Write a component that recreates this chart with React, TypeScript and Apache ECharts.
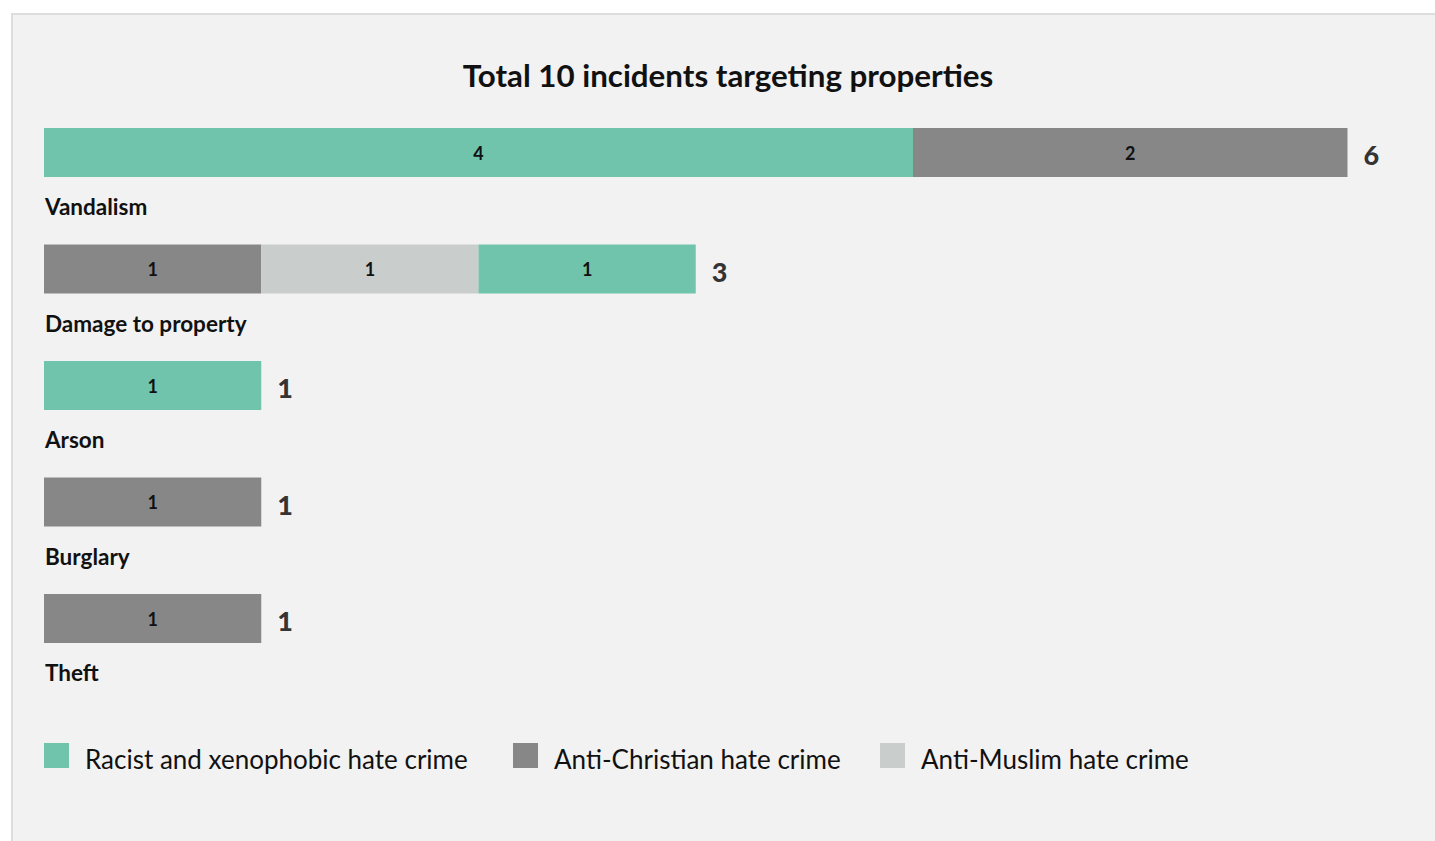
import React, { useEffect, useRef } from "react";
import * as echarts from "echarts";

const titleText = "Total 10 incidents targeting properties";
const categories = ["Vandalism", "Damage to property", "Arson", "Burglary", "Theft"];
const racistFirst = [4, 0, 1, 0, 0];
const antiChristian = [2, 1, 0, 1, 1];
const antiMuslim = [0, 1, 0, 0, 0];
const racistLast = [0, 1, 0, 0, 0];
const legendNames = [
  "Racist and xenophobic hate crime",
  "Anti-Christian hate crime",
  "Anti-Muslim hate crime",
];

const GREEN = "#6fc4ab";
const DARK = "#878787";
const LIGHT = "#c9cdcc";
const FONT = "Lato, 'Noto Sans', sans-serif";
const TXT = "#111111";

export default function App() {
  const ref = useRef<HTMLDivElement>(null);
  useEffect(() => {
    if (!ref.current) return;
    const chart = echarts.init(ref.current, undefined, { renderer: "svg" });
    const totals = categories.map(
      (_, i) => racistFirst[i] + antiChristian[i] + antiMuslim[i] + racistLast[i]
    );
    const barLabel = {
      show: true,
      position: "inside",
      color: TXT,
      fontFamily: FONT,
      fontWeight: "bold",
      fontSize: 18,
      formatter: (p: any) => (p.value ? String(p.value) : ""),
    };
    const mkBar = (name: string, data: number[], color: string) => ({
      type: "bar",
      name,
      stack: "total",
      data,
      barWidth: 49,
      itemStyle: { color },
      label: barLabel,
      emphasis: { disabled: true },
    });
    const legendPos = [31, 500, 867];
    const legendColors = [GREEN, DARK, LIGHT];
    chart.setOption({
      animation: false,
      backgroundColor: "#f2f2f2",
      title: {
        text: titleText,
        left: 711 + 4 - 5,
        textAlign: "center",
        top: 39,
        textStyle: { fontFamily: FONT, fontWeight: "bold", fontSize: 31.3, color: TXT },
      },
      legend: legendNames.map((n, i) => ({
        data: [{ name: n, itemStyle: { color: legendColors[i] } }],
        left: legendPos[i],
        top: 728,
        padding: 0,
        icon: "rect",
        itemWidth: 25,
        itemHeight: 25,
        selectedMode: false,
        formatter: "{t|{name}}",
        textStyle: {
          fontFamily: FONT,
          fontSize: 26,
          color: TXT,
          padding: [0, 0, 0, 11],
          rich: {
            t: {
              fontFamily: FONT,
              fontSize: 26,
              color: TXT,
              padding: [6, 0, 0, 0],
            },
          },
        },
      })),
      grid: { left: 31, right: 87.5, top: 79.25, bottom: 164.25, containLabel: false },
      xAxis: {
        type: "value",
        min: 0,
        max: 6,
        show: false,
      },
      yAxis: {
        type: "category",
        data: categories,
        inverse: true,
        axisLine: { show: false },
        axisTick: { show: false },
        axisLabel: {
          inside: true,
          margin: 1,
          align: "left",
          verticalAlign: "top",
          padding: [42, 0, 0, 0],
          lineHeight: 24,
          fontFamily: FONT,
          fontWeight: "bold",
          fontSize: 22.5,
          color: TXT,
        },
        z: 10,
      },
      series: [
        mkBar(legendNames[0], racistFirst, GREEN),
        mkBar(legendNames[1], antiChristian, DARK),
        mkBar(legendNames[2], antiMuslim, LIGHT),
        mkBar(legendNames[0], racistLast, GREEN),
        {
          type: "scatter",
          name: "Total",
          data: totals.map((t, i) => [t, categories[i]]),
          symbolSize: 0,
          itemStyle: { color: "transparent" },
          label: {
            show: true,
            position: "right",
            distance: 16,
            offset: [0, 2],
            formatter: (p: any) => String(p.value[0]),
            fontFamily: FONT,
            fontWeight: 900,
            fontSize: 27,
            color: "#000000",
          },
          emphasis: { disabled: true },
        },
      ],
    });
    return () => chart.dispose();
  }, []);

  return (
    <div
      style={{
        position: "fixed",
        left: 0,
        top: 0,
        width: 1435,
        height: 841,
        overflow: "hidden",
        background: "#ffffff",
      }}
    >
      <div
        style={{
          position: "absolute",
          left: 11,
          top: 13,
          borderLeft: "2px solid #dddddd",
          borderTop: "2px solid #dddddd",
          width: 1440,
          height: 840,
          background: "#f2f2f2",
        }}
      >
        <div ref={ref} style={{ width: 1422, height: 826 }} />
      </div>
    </div>
  );
}
